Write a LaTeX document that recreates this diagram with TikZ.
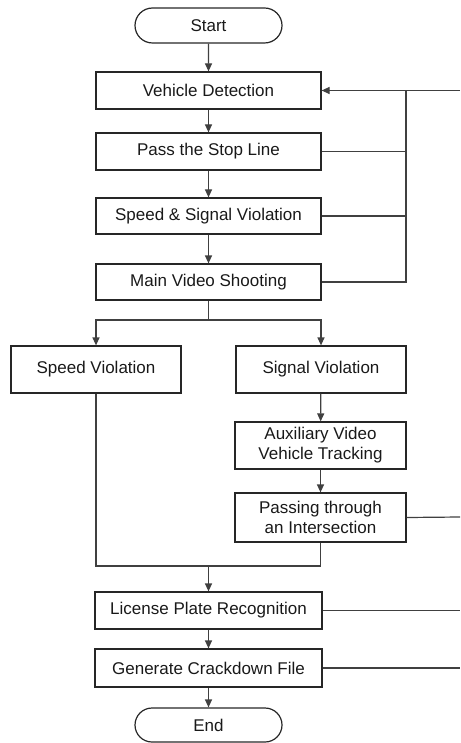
\documentclass[tikz,border=0pt]{standalone}
\usepackage{fontspec}
\setmainfont{Liberation Sans}
\usetikzlibrary{arrows.meta,shapes.misc}
\begin{document}
\begin{tikzpicture}[x=1pt,y=-1pt,
  line width=1.2pt,
  font=\fontsize{17}{20}\selectfont,
  stepbox/.style={draw=black!85,rectangle,inner sep=0pt,align=center,text=black!90},
  term/.style={draw=black!85,rounded rectangle,inner sep=0pt,minimum width=147pt,minimum height=35pt,text=black!90},
  conn/.style={draw=black!75},
  arr/.style={conn,-{Triangle[length=8pt,width=7pt]}}]
\useasboundingbox (0,0) rectangle (460,743);

% terminals
\node[term] (start) at (208.5,25.5) {Start};
\node[term,minimum height=34pt] (end) at (208.5,725) {End};

% main column
\node[stepbox,minimum width=225pt,minimum height=37pt] (vd)  at (208.5,90.5) {Vehicle Detection};
\node[stepbox,minimum width=225pt,minimum height=37pt] (psl) at (208.5,151.5) {Pass the Stop Line};
\node[stepbox,minimum width=225pt,minimum height=36pt] (ssv) at (208.5,216) {Speed \& Signal Violation};
\node[stepbox,minimum width=225pt,minimum height=36pt] (mvs) at (208.5,282) {Main Video Shooting};

% two branches
\node[stepbox,minimum width=170pt,minimum height=47pt] (spv) at (96,369.5) {Speed Violation};
\node[stepbox,minimum width=170pt,minimum height=47pt] (sgv) at (321,369.5) {Signal Violation};
\node[stepbox,minimum width=171pt,minimum height=47pt] (avt) at (320.5,445.5) {Auxiliary Video\\Vehicle Tracking};
\node[stepbox,minimum width=171pt,minimum height=49pt] (pti) at (320.5,517.5) {Passing through\\an Intersection};

% final steps
\node[stepbox,minimum width=227pt,minimum height=37pt] (lpr) at (208.5,610.5) {License Plate Recognition};
\node[stepbox,minimum width=227pt,minimum height=38pt] (gcf) at (208.5,668) {Generate Crackdown File};

% junction points
\coordinate (split) at (208.5,320);
\coordinate (merge) at (208.5,566);
\coordinate (fbtop) at (406,90.5);
\coordinate (in1) at (460,90.5);
\coordinate (out1) at (460,517);
\coordinate (out2) at (460,610.5);
\coordinate (out3) at (460,668);

% vertical flow
\draw[arr] (start) -- (vd);
\draw[arr] (vd) -- (psl);
\draw[arr] (psl) -- (ssv);
\draw[arr] (ssv) -- (mvs);
\draw[conn] (mvs) -- (split);
\draw[arr] (split) -| (spv.north);
\draw[arr] (split) -| (sgv.north);
\draw[arr] (sgv) -- (avt);
\draw[arr] (avt) -- (pti);
\draw[conn] (spv.south) |- (merge);
\draw[conn] (pti.south) |- (merge);
\draw[arr] (merge) -- (lpr);
\draw[arr] (lpr) -- (gcf);
\draw[arr] (gcf) -- (end);

% feedback to detection
\draw[arr] (in1) -- (vd.east);
\draw[conn] (psl.east) -| (fbtop);
\draw[conn] (ssv.east) -| (fbtop);
\draw[conn] (mvs.east) -| (fbtop);

% outgoing lines on the right
\draw[conn] (pti.east) -- (out1);
\draw[conn] (lpr.east) -- (out2);
\draw[conn] (gcf.east) -- (out3);
\end{tikzpicture}
\end{document}
